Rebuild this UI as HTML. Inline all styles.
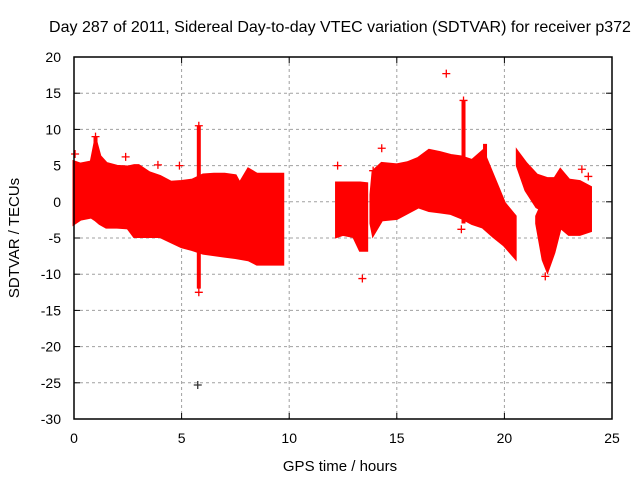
<!DOCTYPE html>
<html><head><meta charset="utf-8"><style>
body{margin:0;background:#fff}
svg{display:block;font-family:"Liberation Sans",sans-serif}
</style></head><body>
<svg id="c" width="640" height="480"></svg>
<script>
const segTimes=[[0,0.3,0.8,1.0,1.2,1.5,2.0,2.5,2.8,3.0,3.5,4.0,4.5,5.0,5.5,6.0,6.5,7.0,7.5,7.7,8.1,8.5,9.0,9.7],
[12.2,12.5,13.0,13.3,13.6],
[13.8,13.9,14.3,15.0,15.5,16.0,16.5,17.0,17.5,18.0,18.5,19.0,19.5,20.0,20.5],
[20.6,21.0,21.5,22.0,22.4],
[21.5,21.8,22.0,22.3,22.6,23.0,23.5,24.0]];
const segUpper=[[5.5,5.2,5.5,8.5,6.3,5.3,4.9,4.8,5.0,5.0,4.0,3.5,2.7,2.8,3.0,3.7,3.8,3.8,3.6,2.5,4.5,3.8,3.8,3.8],
[2.6,2.6,2.6,2.6,2.5],
[1.0,4.2,5.3,5.1,5.4,6.0,7.1,6.8,6.4,6.2,5.7,7.0,3.4,-0.2,-2.0],
[6.9,5.3,3.7,3.2,3.2],
[-2,0,1,3,4.4,3.0,2.8,2.0]];
const segLower=[[-3.0,-2.4,-2.1,-2.5,-3.0,-3.5,-3.5,-3.6,-4.8,-4.8,-4.8,-4.8,-5.5,-6.2,-6.6,-7.1,-7.3,-7.5,-7.7,-7.8,-8.0,-8.6,-8.6,-8.6],
[-4.8,-4.5,-4.8,-6.7,-6.7],
[-3.0,-4.5,-2.5,-2.3,-1.5,-0.7,-1.2,-1.4,-1.6,-2.2,-3.0,-3.5,-4.8,-6.0,-7.7],
[5.0,1.6,-0.7,-1.5,-1.2],
[-3,-8,-9.5,-7,-3.5,-4.5,-4.5,-4.0]];
const outT=[5.75,17.3,18.1,1.0,5.8,14.3,13.4,21.9,5.8,3.9,4.9,2.4,13.9,23.6,0.05,12.25,18.0,23.9];
const outV=[-25.3,17.7,14.0,9.0,10.5,7.4,-10.6,-10.3,-12.5,5.1,5.0,6.2,4.3,4.5,6.6,5.0,-3.8,3.5];
const spikeT=[5.8,18.1,1.0,19.1];
const spikeLo=[-12,-3,-1,-3];
const spikeHi=[10.5,14,9,8];
const xTicks=[0,5,10,15,20,25];
const yTicks=[20,15,10,5,0,-5,-10,-15,-20,-25,-30];
const X=t=>74+t*(538/25), Y=v=>201.8-v*7.24;
const s=document.getElementById('c'),NS='http://www.w3.org/2000/svg';
function mk(tag,a,p){const e=document.createElementNS(NS,tag);for(const k in a)e.setAttribute(k,a[k]);(p||s).appendChild(e);return e;}
xTicks.forEach(t=>{if(t>0&&t<25){const l=mk('line',{x1:X(t),x2:X(t),y1:57,y2:419,stroke:'#a0a0a0','stroke-dasharray':'3,3'});

}
const tx=mk('text',{x:X(t),y:443,'text-anchor':'middle','font-size':14});tx.textContent=t;


mk('line',{x1:X(t),x2:X(t),y1:419,y2:413,stroke:'#000'});mk('line',{x1:X(t),x2:X(t),y1:57,y2:63,stroke:'#000'});});
yTicks.forEach(v=>{if(v<20&&v>-30){const l=mk('line',{x1:74,x2:612,y1:Y(v),y2:Y(v),stroke:'#a0a0a0','stroke-dasharray':'3,3'});

}
const tx=mk('text',{x:61,y:Y(v)+5,'text-anchor':'end','font-size':14});tx.textContent=v;


mk('line',{x1:74,x2:80,y1:Y(v),y2:Y(v),stroke:'#000'});mk('line',{x1:612,x2:606,y1:Y(v),y2:Y(v),stroke:'#000'});});
segTimes.forEach((ts,i)=>{let pts=ts.map((t,j)=>X(t)+','+Y(segUpper[i][j]));
for(let j=ts.length-1;j>=0;j--)pts.push(X(ts[j])+','+Y(segLower[i][j]));
const p=mk('polygon',{points:pts.join(' '),fill:'#ff0000',stroke:'#ff0000','stroke-width':3,'stroke-linejoin':'miter'});

});
spikeT.forEach((t,i)=>{const l=mk('line',{x1:X(t),x2:X(t),y1:Y(spikeHi[i]),y2:Y(spikeLo[i]),stroke:'#ff0000','stroke-width':4});

});
outT.forEach((t,i)=>{const g=mk('path',{d:`M${X(t)-4},${Y(outV[i])}h8M${X(t)},${Y(outV[i])-4}v8`,stroke:i==0?'#333':'#ff0000','stroke-width':1.3});

});
const f=mk('rect',{x:74,y:57,width:538,height:362,fill:'none',stroke:'#000','stroke-width':1.5});


const ti=mk('text',{x:340,y:32,'text-anchor':'middle','font-size':16});ti.textContent='Day 287 of 2011, Sidereal Day-to-day VTEC variation (SDTVAR) for receiver p372';


const xl=mk('text',{x:340,y:471,'text-anchor':'middle','font-size':15});xl.textContent='GPS time / hours';


const yl=mk('text',{x:0,y:0,'text-anchor':'middle','font-size':15,transform:'translate(19,238) rotate(-90)'});yl.textContent='SDTVAR / TECUs';


</script>
</body></html>
